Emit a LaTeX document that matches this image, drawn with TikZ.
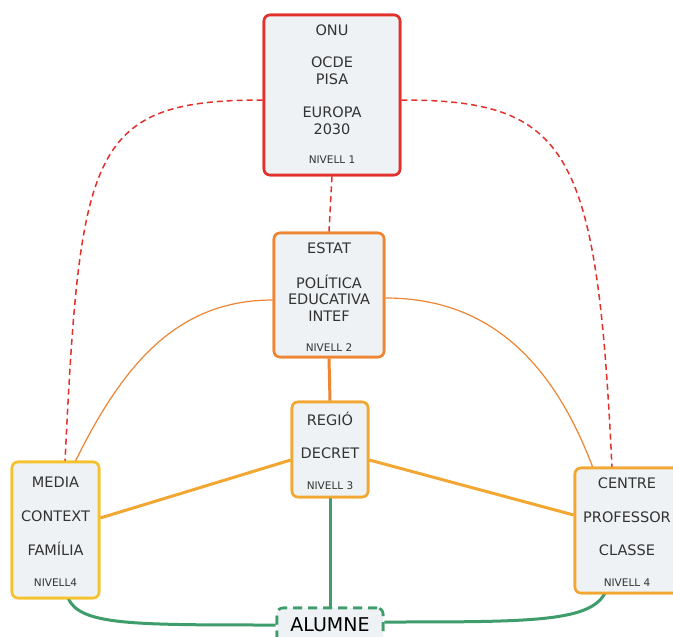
\documentclass[tikz,border=0pt]{standalone}
\usepackage{fontspec}
\setmainfont{DejaVu Sans}
\begin{document}
\begin{tikzpicture}[x=1pt,y=-1pt,
  box/.style={draw, line width=2.6pt, rounded corners=6pt, fill=boxfill, inner sep=0pt},
  txt/.style={font=\fontsize{14.5}{16}\selectfont, text=txtc, inner sep=0pt},
  small/.style={font=\fontsize{10.5}{12}\selectfont, text=txtc, inner sep=0pt},
  thin/.style={line width=1.2pt},
  thick/.style={line width=3pt},
  rdash/.style={draw=cred, line width=1.5pt, dash pattern=on 6pt off 4pt}]
\definecolor{boxfill}{HTML}{EEF2F5}
\definecolor{txtc}{HTML}{333333}
\definecolor{cred}{HTML}{E2312B}
\definecolor{corg}{HTML}{EE8533}
\definecolor{cyo}{HTML}{F2A732}
\definecolor{cyel}{HTML}{F5C22C}
\definecolor{cgrn}{HTML}{3F9D6B}
\useasboundingbox (0,0) rectangle (673,637);
\fill[white] (0,0) rectangle (673,637);
% boxes
\node[box, draw=cred, minimum width=136pt, minimum height=160pt] (n1) at (332,95) {};
\node[box, draw=corg, minimum width=110pt, minimum height=124pt] (n2) at (329,295) {};
\node[box, draw=cyo, minimum width=76pt, minimum height=95pt] (n3) at (330,449.5) {};
\node[box, draw=cyel, minimum width=87pt, minimum height=136pt] (n4) at (55.5,530) {};
\node[box, draw=cyo, minimum width=108pt, minimum height=125pt] (n5) at (629,530.5) {};
\node[draw=cgrn, line width=2.6pt, dash pattern=on 9pt off 6pt, rounded corners=6pt, fill=boxfill, minimum width=106pt, minimum height=40pt] (al) at (330,628) {};
% connectors
\draw[rdash] (n1.west |- 0,100) .. controls (90,100) and (80,150) .. (65,462);
\draw[rdash] (n1.east |- 0,100) .. controls (570,100) and (597,150) .. (612,468);
\draw[rdash] (n1.south) -- (n2.north);
\draw[corg, thin] (n2.west |- 0,300) .. controls (180,300) and (125,360) .. (75,462);
\draw[corg, thin] (n2.east |- 0,298) .. controls (470,298) and (545,340) .. (593,468);
\draw[corg, thick] (n2.south) -- (n3.north);
\draw[cyo, thick] (n3.west |- 0,460) -- (n4.east |- 0,518);
\draw[cyo, thick] (n3.east |- 0,460) -- (n5.west |- 0,515);
\draw[cgrn, thick] (n3.south) -- (al.north);
\draw[cgrn, thick] (68,598) .. controls (80,625) and (130,625) .. (al.west |- 0,625);
\draw[cgrn, thick] (605,593) .. controls (590,622) and (530,622) .. (al.east |- 0,622);
% redraw boxes on top
\node[box, draw=cred, minimum width=136pt, minimum height=160pt] at (332,95) {};
\node[box, draw=corg, minimum width=110pt, minimum height=124pt] at (329,295) {};
\node[box, draw=cyo, minimum width=76pt, minimum height=95pt] at (330,449.5) {};
\node[box, draw=cyel, minimum width=87pt, minimum height=136pt] at (55.5,530) {};
\node[box, draw=cyo, minimum width=108pt, minimum height=125pt] at (629,530.5) {};
\node[draw=cgrn, line width=2.6pt, dash pattern=on 9pt off 6pt, rounded corners=6pt, fill=boxfill, minimum width=106pt, minimum height=40pt] at (330,628) {};
% texts
\node[txt] (t1a) at (332,30) {ONU};
\node[txt] (t1b) at (332,62) {OCDE};
\node[txt] (t1c) at (332,79) {PISA};
\node[txt] (t1d) at (332,112) {EUROPA};
\node[txt] (t1e) at (332,129) {2030};
\node[small] (t1f) at (332,160) {NIVELL 1};
\node[txt] (t2a) at (329,248) {ESTAT};
\node[txt] (t2b) at (329,282) {POLÍTICA};
\node[txt] (t2c) at (329,299) {EDUCATIVA};
\node[txt] (t2d) at (329,316) {INTEF};
\node[small] (t2e) at (329,348) {NIVELL 2};
\node[txt] (t3a) at (330,419) {REGIÓ};
\node[txt] (t3b) at (330,453) {DECRET};
\node[small] (t3c) at (330,486) {NIVELL 3};
\node[txt] (t4a) at (55.5,482) {MEDIA};
\node[txt] (t4b) at (55.5,516) {CONTEXT};
\node[txt] (t4c) at (55.5,549) {FAMÍLIA};
\node[small] (t4d) at (55.5,583) {NIVELL4};
\node[txt] (t5a) at (627,483) {CENTRE};
\node[txt] (t5b) at (627,517) {PROFESSOR};
\node[txt] (t5c) at (627,550) {CLASSE};
\node[small] (t5d) at (627,583) {NIVELL 4};
\node[txt, font=\fontsize{19}{21}\selectfont, text=black] (tal) at (330,624.5) {ALUMNE};
\end{tikzpicture}
\end{document}
